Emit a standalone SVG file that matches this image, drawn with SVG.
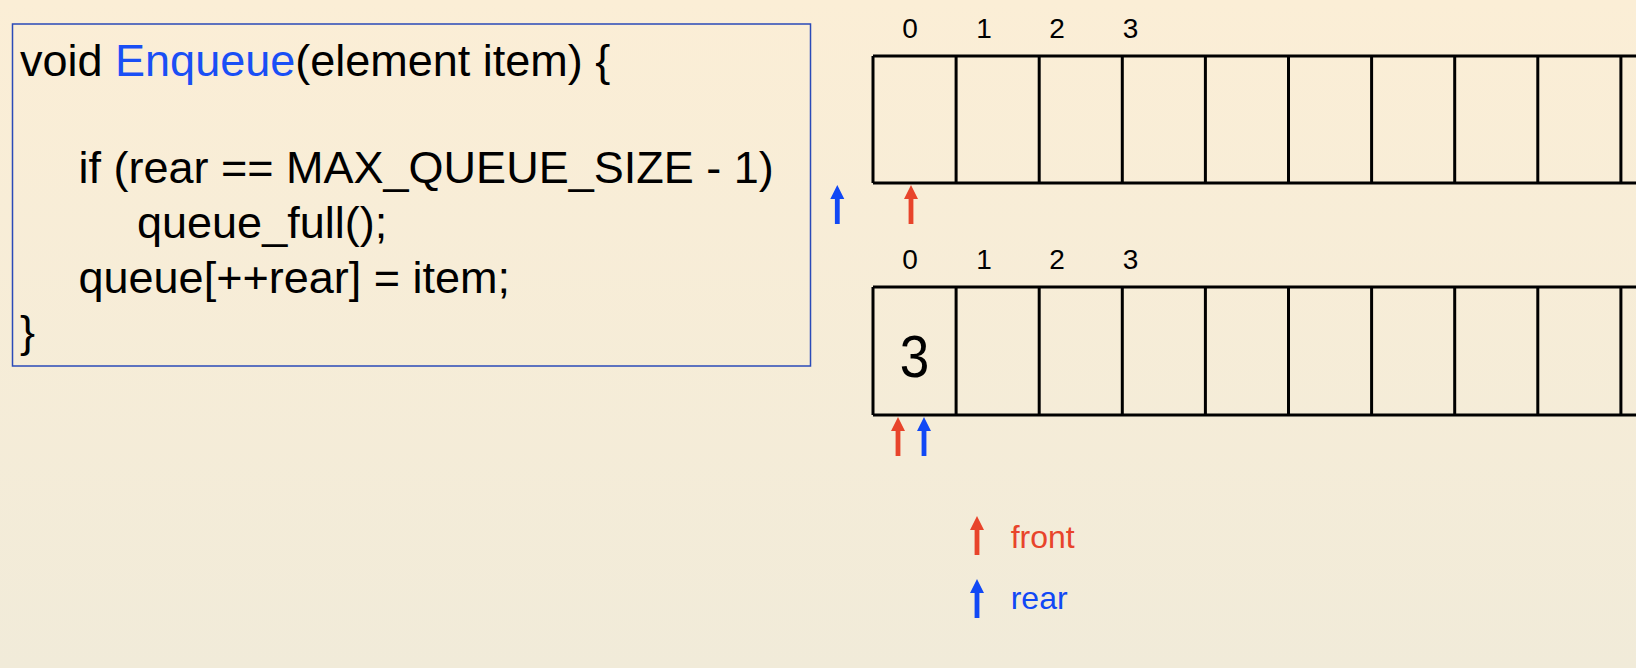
<svg xmlns="http://www.w3.org/2000/svg" xmlns:xlink="http://www.w3.org/1999/xlink" width="1636" height="668" viewBox="0 0 1636 668">
  <defs>
    <linearGradient id="bg" x1="0" y1="0" x2="0" y2="1">
      <stop offset="0" stop-color="#fbeed6"/>
      <stop offset="1" stop-color="#f1ebd9"/>
    </linearGradient>
    <path id="arrow" d="M0,0 L7,14 L2.4,14 L2.4,39 L-2.4,39 L-2.4,14 L-7,14 Z"/>
    <style>
      text { font-family: "Liberation Sans", Arial, Helvetica, sans-serif; }
      .code { font-size: 45px; fill: #000000; }
      .fn { fill: #1a4ff5; }
      .idx { font-size: 28px; fill: #000000; text-anchor: middle; }
      .cellline { stroke: #000000; stroke-width: 3; fill: none; }
      .red { fill: #e8442b; }
      .blue { fill: #1148f5; }
      .legend { font-size: 32px; }
    </style>
  </defs>

  <rect x="0" y="0" width="1636" height="668" fill="url(#bg)"/>

  <g id="code-box">
    <rect x="12.5" y="24" width="798" height="342" fill="none" stroke="#2a4ab8" stroke-width="1.5"/>
    <text class="code" x="20" y="76">void <tspan class="fn">Enqueue</tspan>(element item) {</text>
    <text class="code" x="78.5" y="183">if (rear == MAX_QUEUE_SIZE - 1)</text>
    <text class="code" x="137" y="238">queue_full();</text>
    <text class="code" x="78.5" y="293">queue[++rear] = item;</text>
    <text class="code" x="20" y="347">}</text>
  </g>

  <g id="array-top">
    <text class="idx" x="910" y="37.5">0</text>
    <text class="idx" x="984" y="37.5">1</text>
    <text class="idx" x="1057" y="37.5">2</text>
    <text class="idx" x="1130.5" y="37.5">3</text>
    <path class="cellline" d="M873,56 H1640 M873,183 H1640 M873,56 V183 M956.1,56 V183 M1039.2,56 V183 M1122.3,56 V183 M1205.4,56 V183 M1288.5,56 V183 M1371.6,56 V183 M1454.7,56 V183 M1537.8,56 V183 M1620.9,56 V183"/>
  </g>

  <g id="array-bottom">
    <text class="idx" x="910" y="269">0</text>
    <text class="idx" x="984" y="269">1</text>
    <text class="idx" x="1057" y="269">2</text>
    <text class="idx" x="1130.5" y="269">3</text>
    <path class="cellline" d="M873,287 H1640 M873,415 H1640 M873,287 V415 M956.1,287 V415 M1039.2,287 V415 M1122.3,287 V415 M1205.4,287 V415 M1288.5,287 V415 M1371.6,287 V415 M1454.7,287 V415 M1537.8,287 V415 M1620.9,287 V415"/>
    <text transform="translate(914.6,377) scale(0.9,1)" x="0" y="0" font-size="59" text-anchor="middle" fill="#000000">3</text>
  </g>

  <g id="pointers">
    <use xlink:href="#arrow" href="#arrow" class="blue" x="837.3" y="185"/>
    <use xlink:href="#arrow" href="#arrow" class="red" x="911" y="185"/>
    <use xlink:href="#arrow" href="#arrow" class="red" x="898" y="417"/>
    <use xlink:href="#arrow" href="#arrow" class="blue" x="924" y="417"/>
  </g>

  <g id="legend">
    <use xlink:href="#arrow" href="#arrow" class="red" x="977" y="516"/>
    <text class="legend red" x="1010.7" y="548">front</text>
    <use xlink:href="#arrow" href="#arrow" class="blue" x="977" y="579"/>
    <text class="legend blue" x="1010.7" y="609">rear</text>
  </g>
</svg>
